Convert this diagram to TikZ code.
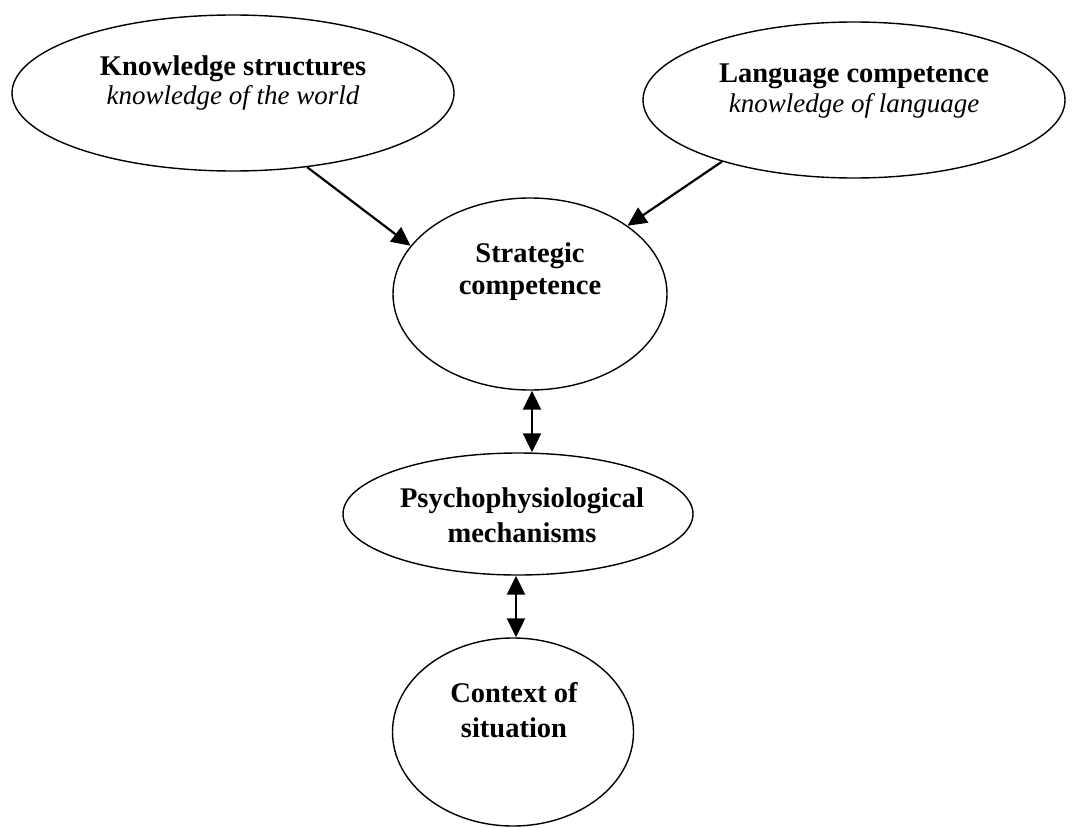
\documentclass[tikz,border=0pt]{standalone}
\usepackage{fontspec}
\setmainfont{Liberation Serif}
\usetikzlibrary{shapes.geometric,arrows.meta}
\begin{document}
\begin{tikzpicture}[x=1pt,y=-1pt,
  oval/.style={draw,ellipse,line width=1.4pt,inner sep=0pt},
  bt/.style={anchor=base,inner sep=0pt,font=\fontsize{28.5}{30}\selectfont\bfseries},
  it/.style={anchor=base,inner sep=0pt,font=\fontsize{27}{30}\selectfont\itshape},
  arr/.style={line width=2.2pt,-{Triangle[length=19pt,width=18pt]}},
  darr/.style={line width=2.2pt,{Triangle[length=19pt,width=18pt]}-{Triangle[length=19pt,width=18pt]}}]
\useasboundingbox (0,0) rectangle (1078,827);
\node[oval,minimum width=442pt,minimum height=156pt] (ks) at (233,93) {};
\node[oval,minimum width=422pt,minimum height=156pt] (lc) at (854,100) {};
\node[oval,minimum width=274pt,minimum height=192pt] (sc) at (530,294) {};
\node[oval,minimum width=350pt,minimum height=122pt] (pm) at (518,514) {};
\node[oval,minimum width=241pt,minimum height=188pt] (cs) at (513,732) {};
\node[bt] (ks1) at (233,75) {Knowledge structures};
\node[it] (ks2) at (233,104) {knowledge of the world};
\node[bt] (lc1) at (854,82) {Language competence};
\node[it] (lc2) at (854,112) {knowledge of language};
\node[bt] (sc1) at (530,262) {Strategic};
\node[bt] (sc2) at (530,294) {competence};
\node[bt] (pm1) at (522,507) {Psychophysiological};
\node[bt] (pm2) at (522,542) {mechanisms};
\node[bt] (cs1) at (514,702) {Context of};
\node[bt] (cs2) at (514,737) {situation};
\draw[arr] (ks.-45) -- (sc.158);
\draw[arr] (lc.205) -- (sc.35);
\draw[darr] ([xshift=2pt]sc.south) -- ([xshift=2pt]sc.south |- pm.north);
\draw[darr] ([xshift=-2pt]pm.south) -- ([xshift=-2pt]pm.south |- cs.north);
\end{tikzpicture}
\end{document}
